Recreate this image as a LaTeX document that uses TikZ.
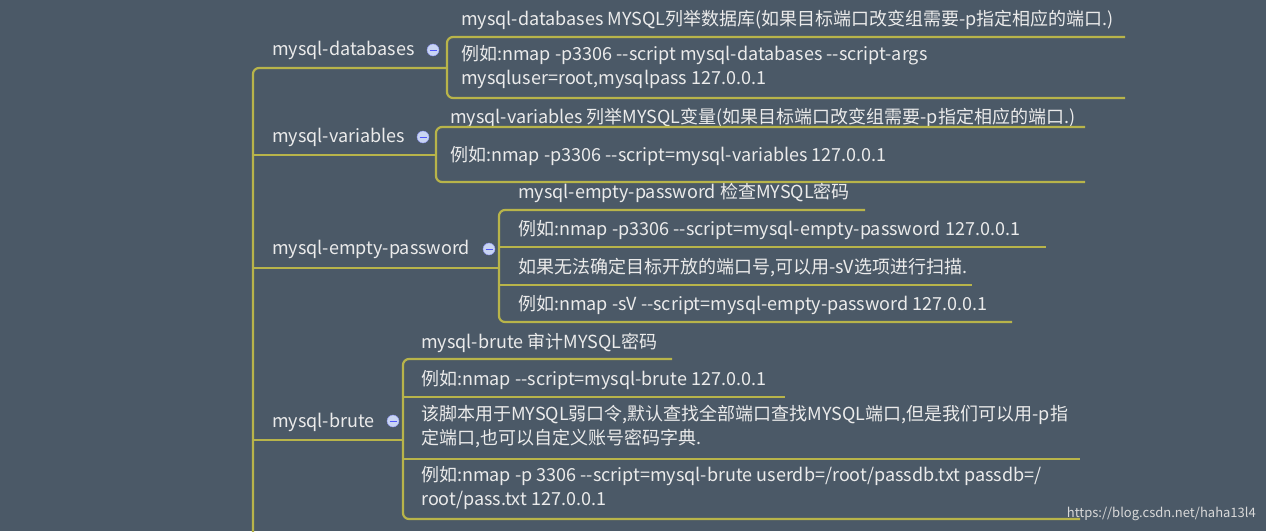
\documentclass[tikz,border=0pt]{standalone}
\usepackage{fontspec}
\setmainfont{Noto Sans CJK SC}
\usetikzlibrary{positioning}
\definecolor{slatebg}{HTML}{4B5967}
\definecolor{branch}{HTML}{B8B44A}
\definecolor{knob}{HTML}{C9D5F2}
\tikzset{
  topic/.style={anchor=base west, inner sep=0pt, text=white!92!black, font=\fontsize{18}{24}\selectfont},
  leaf/.style={anchor=base west, inner sep=0pt, align=left, text=white!92!black, font=\fontsize{18}{24}\selectfont},
  twoline/.style={leaf, anchor=north west},
  limb/.style={draw=branch, line width=2.2pt, rounded corners=6pt},
  fold/.style={circle, fill=knob, draw=knob!70!blue, inner sep=0pt, minimum size=12pt}
}
\begin{document}
\begin{tikzpicture}[x=1pt,y=-1pt]
\fill[slatebg] (0,0) rectangle (1266,531);
\useasboundingbox (0,0) rectangle (1266,531);

% trunk
\draw[limb] (447,68) -- (253,68) -- (253,540);
\draw[limb] (253,155) -- (436,155);
\draw[limb] (253,268) -- (499,268);
\draw[limb] (253,440) -- (403,440);

% mysql-databases
\node[topic] (tdb) at (272,55) {mysql-databases};
\node[fold] (fdb) at (433,50) {};
\draw[knob!40!blue, thick] ([xshift=-3.5pt]fdb.center) -- ([xshift=3.5pt]fdb.center);
\node[leaf] (db1) at (461,25) {mysql-databases MYSQL列举数据库(如果目标端口改变组需要-p指定相应的端口.)};
\node[twoline] (db2) at (461,45) {例如:nmap -p3306 -{}-script mysql-databases -{}-script-args\\mysqluser=root,mysqlpass 127.0.0.1};
\draw[limb] (1125,37) -- (447,37) -- (447,98) -- (1125,98);

% mysql-variables
\node[topic] (tvar) at (272,142) {mysql-variables};
\node[fold] (fvar) at (423,137) {};
\draw[knob!40!blue, thick] ([xshift=-3.5pt]fvar.center) -- ([xshift=3.5pt]fvar.center);
\node[leaf] (var1) at (450,123) {mysql-variables 列举MYSQL变量(如果目标端口改变组需要-p指定相应的端口.)};
\node[leaf] (var2) at (450,161) {例如:nmap -p3306 -{}-script=mysql-variables 127.0.0.1};
\draw[limb] (1085,127) -- (436,127) -- (436,182) -- (1085,182);

% mysql-empty-password
\node[topic] (temp) at (272,254) {mysql-empty-password};
\node[fold] (femp) at (489,249) {};
\draw[knob!40!blue, thick] ([xshift=-3.5pt]femp.center) -- ([xshift=3.5pt]femp.center);
\node[leaf] (emp1) at (518,198) {mysql-empty-password 检查MYSQL密码};
\node[leaf] (emp2) at (518,235) {例如:nmap -p3306 -{}-script=mysql-empty-password 127.0.0.1};
\node[leaf] (emp3) at (518,273) {如果无法确定目标开放的端口号,可以用-sV选项进行扫描.};
\node[leaf] (emp4) at (518,310) {例如:nmap -sV -{}-script=mysql-empty-password 127.0.0.1};
\draw[limb] (865,210) -- (499,210) -- (499,322) -- (1012,322);
\draw[limb] (499,247) -- (1046,247);
\draw[limb] (499,285) -- (972,285);

% mysql-brute
\node[topic] (tbr) at (272,427) {mysql-brute};
\node[fold] (fbr) at (393,421) {};
\draw[knob!40!blue, thick] ([xshift=-3.5pt]fbr.center) -- ([xshift=3.5pt]fbr.center);
\node[leaf] (br1) at (421,348) {mysql-brute 审计MYSQL密码};
\node[leaf] (br2) at (421,385) {例如:nmap -{}-script=mysql-brute 127.0.0.1};
\node[twoline] (br3) at (421,405) {该脚本用于MYSQL弱口令,默认查找全部端口查找MYSQL端口,但是我们可以用-p指\\定端口,也可以自定义账号密码字典.};
\node[twoline] (br4) at (421,466) {例如:nmap -p 3306 -{}-script=mysql-brute userdb=/root/passdb.txt passdb=/\\root/pass.txt 127.0.0.1};
\draw[limb] (672,359) -- (403,359) -- (403,519) -- (1080,519);
\draw[limb] (403,397) -- (785,397);
\draw[limb] (403,459) -- (1080,459);

\node[anchor=base east, inner sep=0pt, text=white!85!black, font=\fontsize{13}{15}\selectfont] (mark) at (1256,517) {https://blog.csdn.net/haha13l4};
\end{tikzpicture}
\end{document}
